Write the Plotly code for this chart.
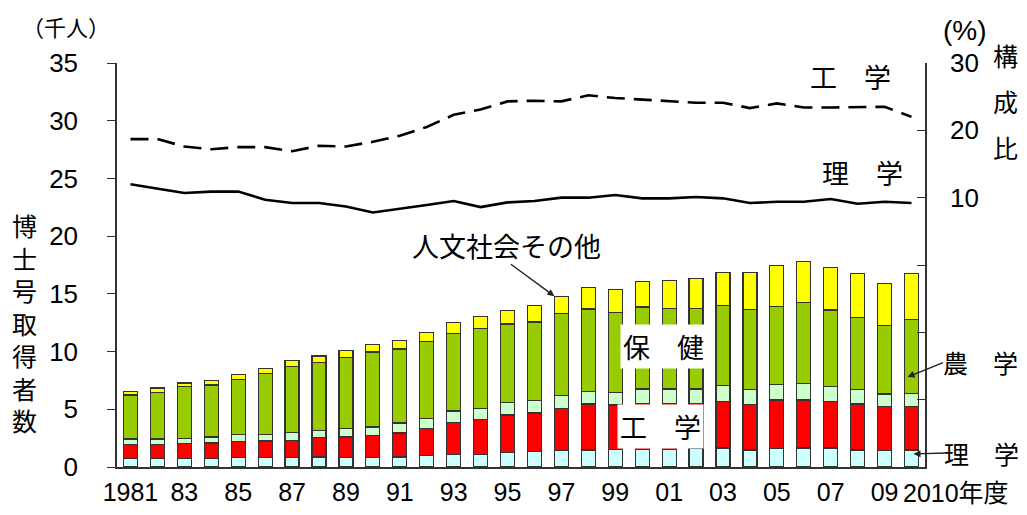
import plotly.graph_objects as go

years = [str(y) for y in range(1981, 2011)]

# thousands of persons (stacked, bottom to top)
rigaku = [0.72, 0.72, 0.72, 0.72, 0.80, 0.80, 0.80, 0.86, 0.80, 0.80,
          0.86, 0.98, 1.10, 1.10, 1.25, 1.33, 1.42, 1.47, 1.53, 1.53,
          1.53, 1.59, 1.65, 1.47, 1.59, 1.65, 1.65, 1.47, 1.42, 1.47]
kogaku = [1.25, 1.25, 1.30, 1.36, 1.40, 1.45, 1.51, 1.68, 1.80, 1.92,
          2.09, 2.34, 2.77, 3.00, 3.25, 3.35, 3.64, 3.99, 3.85, 3.99,
          3.99, 3.93, 4.04, 3.93, 4.22, 4.16, 4.04, 3.99, 3.81, 3.76]
nogaku = [0.46, 0.46, 0.47, 0.52, 0.63, 0.58, 0.67, 0.64, 0.72, 0.75,
          0.87, 0.90, 0.99, 0.99, 1.08, 1.07, 1.12, 1.07, 1.09, 1.24,
          1.24, 1.24, 1.36, 1.28, 1.33, 1.39, 1.28, 1.22, 1.10, 1.16]
hoken = [3.81, 4.02, 4.46, 4.50, 4.77, 5.29, 5.72, 5.90, 6.18, 6.50,
         6.40, 6.68, 6.74, 6.93, 6.81, 6.81, 7.10, 7.15, 6.90, 7.11,
         7.00, 6.94, 6.94, 6.96, 6.79, 7.08, 6.64, 6.30, 5.90, 6.41]
jinbun = [0.29, 0.40, 0.33, 0.40, 0.40, 0.43, 0.52, 0.54, 0.56, 0.67,
          0.75, 0.72, 0.91, 1.04, 1.14, 1.41, 1.52, 1.84, 2.01, 2.23,
          2.40, 2.63, 2.89, 3.18, 3.50, 3.55, 3.67, 3.78, 3.67, 3.96]

# composition ratio (%)
kogaku_pct = [18.7, 18.7, 17.6, 17.2, 17.5, 17.5, 16.9, 17.7, 17.6, 18.3,
              19.2, 20.5, 22.3, 23.1, 24.3, 24.4, 24.3, 25.2, 24.8, 24.6,
              24.4, 24.1, 24.1, 23.3, 24.0, 23.4, 23.4, 23.4, 23.5, 22.0]
rigaku_pct = [12.0, 11.3, 10.7, 10.9, 10.9, 9.7, 9.2, 9.2, 8.7, 7.8,
              8.3, 8.9, 9.5, 8.6, 9.3, 9.5, 10.0, 10.0, 10.4, 9.9,
              9.9, 10.1, 9.9, 9.2, 9.4, 9.4, 9.8, 9.1, 9.4, 9.2]

x_tickvals = [str(y) for y in range(1981, 2010, 2)]
x_ticktext = ["1981", "83", "85", "87", "89", "91", "93", "95", "97", "99",
              "01", "03", "05", "07", "09"]
y2_tickvals = [-30, -20, -10, 0, 10, 20, 30]
y2_ticktext = ["", "", "", "", "10", "20", "30"]

NUM = "Liberation Sans, Arial, Noto Sans CJK JP"
JP = "Noto Sans CJK JP"

fig = go.Figure()
series = [
    ("理学", rigaku, "#CCFFFF"),
    ("工学", kogaku, "#FF0000"),
    ("農学", nogaku, "#CCFFCC"),
    ("保健", hoken, "#99CC00"),
    ("人文社会その他", jinbun, "#FFFF00"),
]
for name, vals, col in series:
    fig.add_trace(go.Bar(x=years, y=vals, name=name, marker_color=col,
                         marker_line_color="#333333", marker_line_width=1.2))

fig.add_trace(go.Scatter(x=years, y=kogaku_pct, yaxis="y2", mode="lines",
                         line=dict(color="black", width=2.6, dash="18px,9px")))
fig.add_trace(go.Scatter(x=years, y=rigaku_pct, yaxis="y2", mode="lines",
                         line=dict(color="black", width=2.6)))

fig.update_layout(
    width=1011, height=499,
    margin=dict(l=109, r=94, t=55, b=40),
    paper_bgcolor="white", plot_bgcolor="white",
    barmode="stack", bargap=0.48, showlegend=False,
    xaxis=dict(type="category", categoryorder="array", categoryarray=years,
               range=[-0.5, 29.5], tickvals=x_tickvals, ticktext=x_ticktext,
               showline=True, linecolor="#333333", linewidth=1.5, ticks="",
               tickfont=dict(family=NUM, size=25, color="black"),
               ticklabelstandoff=2, showgrid=False, automargin=False),
    yaxis=dict(range=[0, 35], dtick=5, ticks="outside", ticklen=8,
               tickcolor="#333333", showline=True, linecolor="#333333",
               linewidth=1.5, showgrid=False, zeroline=False,
               tickfont=dict(family=NUM, size=26, color="black"),
               ticklabelstandoff=24, automargin=False),
    yaxis2=dict(overlaying="y", side="right", range=[-30, 30],
                tickvals=y2_tickvals, ticktext=y2_ticktext,
                ticks="inside", ticklen=8, tickcolor="#333333",
                showline=True, linecolor="#333333", linewidth=1.5,
                showgrid=False, zeroline=False,
                tickfont=dict(family=NUM, size=26, color="black"),
                ticklabelstandoff=18, automargin=False),
)

def px(X):
    return (X - 117) / 808.0

def py(Y):
    return (467 - Y) / 404.0

def label(text, X, Y, size=27, bg=None, xanchor="center", family=JP, pad=2,
          yanchor="middle"):
    fig.add_annotation(text=text, xref="paper", yref="paper", x=px(X), y=py(Y),
                       xanchor=xanchor, yanchor=yanchor, showarrow=False,
                       font=dict(family=family, size=size, color="black"),
                       bgcolor=bg, borderpad=pad)

label("（千人）", 66, 9, size=22, pad=0, yanchor="top")
label("(%)", 965, 31, size=28, family=NUM)
for i, ch in enumerate("構成比"):
    label(ch, 1005, 55 + i * 46, size=25, pad=0)
label("<br>".join("博士号取得者数"), 24, 322, size=25, pad=0)

label("工　学", 850, 76)
label("理　学", 862, 172)
label("人文社会その他", 506, 246)
label("保　健", 663, 346, bg="white")
label("工　学", 660, 426, bg="white")
label("農　学", 980, 362, size=25, pad=0)
label("理　学", 981, 453, size=25, pad=0)
label("2010年度", 902, 493, size=25, xanchor="left", family=NUM, pad=0)

# arrows (arrow only)
def arrow(year, yval, ax, ay, xshift=0):
    fig.add_annotation(x=years.index(year), y=yval, xref="x", yref="y",
                       text="", showarrow=True, arrowhead=2, arrowsize=1,
                       arrowwidth=1.4, arrowcolor="#222222", ax=ax, ay=ay,
                       xshift=xshift)

arrow("1997", 14.8, -45, -33, xshift=-7)
arrow("2010", 7.8, 37, -15, xshift=-4)
arrow("2010", 1.13, 34, -1, xshift=2)

fig.write_html("out.html")
